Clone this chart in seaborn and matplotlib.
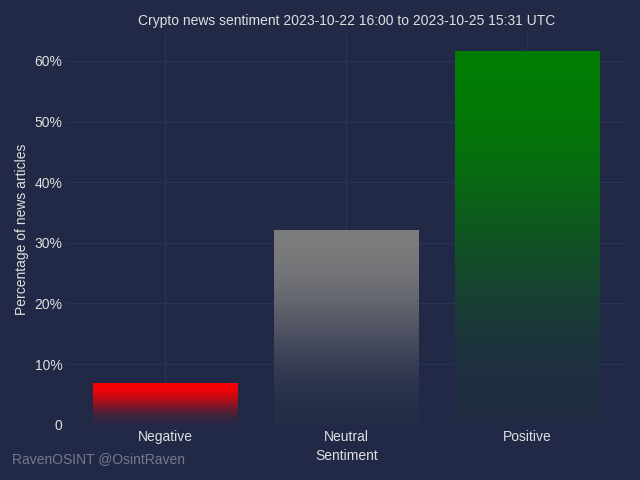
import numpy as np
import pandas as pd
import matplotlib
matplotlib.use("Agg")
import matplotlib.pyplot as plt
from matplotlib.colors import LinearSegmentedColormap
from matplotlib.ticker import FuncFormatter
import seaborn as sns

# Sentiment share of crypto news articles (percent)
sentiments = ["Negative", "Neutral", "Positive"]
percentages = [6.8, 32.1, 61.5]
bar_colors = ["#ff0000", "#808080", "#008000"]

title = "Crypto news sentiment 2023-10-22 16:00 to 2023-10-25 15:31 UTC"
watermark = "RavenOSINT @OsintRaven"

bg = "#212946"
grid = "#2A3459"
text = "#e0e0e0"

sns.set_theme(style="darkgrid")
plt.rcParams["font.family"] = ["Liberation Sans", "DejaVu Sans"]
plt.rcParams.update({
    "figure.facecolor": bg,
    "axes.facecolor": bg,
    "savefig.facecolor": bg,
    "grid.color": grid,
    "axes.edgecolor": bg,
    "text.color": text,
    "axes.labelcolor": text,
    "xtick.color": text,
    "ytick.color": text,
    "font.size": 10,
    "axes.labelsize": 10,
    "xtick.labelsize": 10,
    "ytick.labelsize": 10,
})

df = pd.DataFrame({"Sentiment": sentiments, "pct": percentages})

fig, ax = plt.subplots(figsize=(6.4, 4.8), dpi=100)
sns.barplot(data=df, x="Sentiment", y="pct", hue="Sentiment",
            palette=bar_colors, legend=False, saturation=1, ax=ax)

ylim = ax.get_ylim()

# gradient fill: background colour at the bottom, bar colour at the top
for bar in ax.patches:
    bar.set_visible(False)
    x, y = bar.get_xy()
    w, h = bar.get_width(), bar.get_height()
    cmap = LinearSegmentedColormap.from_list("grad", [bg, bar.get_facecolor()])
    ax.imshow([[0, 0], [1, 1]], extent=[x, x + w, y, y + h], origin="lower",
              cmap=cmap, aspect="auto", interpolation="bicubic", zorder=2)

# matplotlib-style 5% margins instead of seaborn's categorical limits
n = len(sentiments)
pad = 0.05 * (n - 1 + 0.8)
ax.set_xlim(-0.4 - pad, n - 1 + 0.4 + pad)
ax.set_ylim(ylim)
ax.grid(True, axis="both", color=grid, linewidth=0.8)
ax.set_axisbelow(True)
ax.yaxis.set_major_formatter(FuncFormatter(lambda v, p: f"{v:.0f}%" if v else "0"))
ax.set_title(title, fontsize=10, color=text)
ax.set_xlabel("Sentiment")
ax.set_ylabel("Percentage of news articles")
ax.tick_params(length=0)
for s in ax.spines.values():
    s.set_visible(False)

fig.subplots_adjust(left=0.105, right=0.977, top=0.931, bottom=0.115)
fig.text(0.019, 0.035, watermark, color="#737a90", fontsize=10)

fig.savefig("out.png", dpi=100)
